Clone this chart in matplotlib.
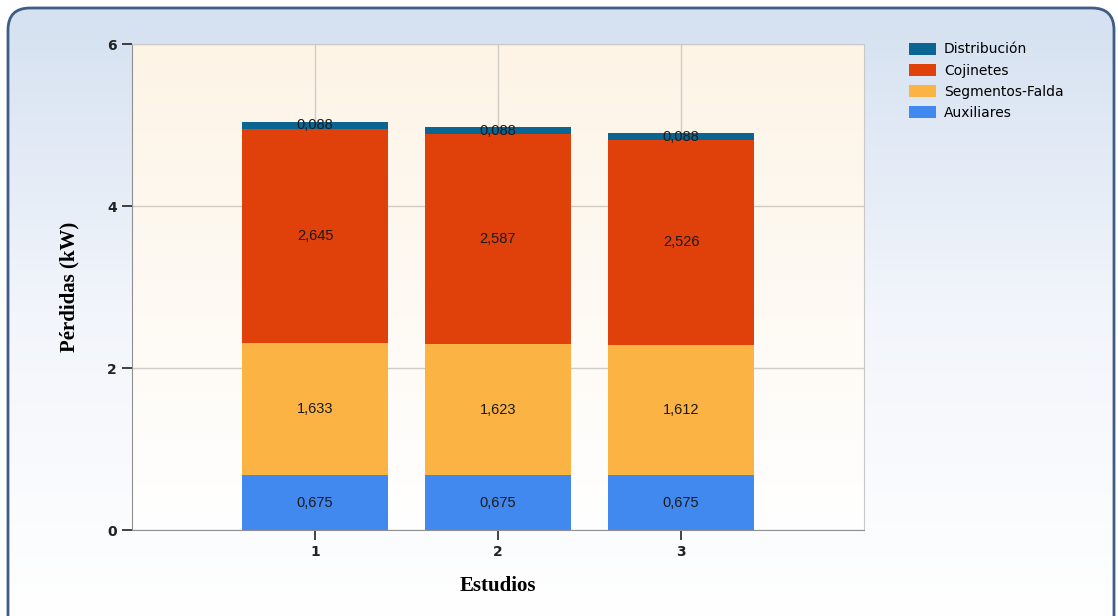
import matplotlib
matplotlib.use("Agg")
import matplotlib.pyplot as plt
import numpy as np
from matplotlib.patches import FancyBboxPatch
from matplotlib.colors import LinearSegmentedColormap

# data
estudios = [1, 2, 3]
tick_labels = ["1", "2", "3"]
auxiliares = [0.675, 0.675, 0.675]
segmentos = [1.633, 1.623, 1.612]
cojinetes = [2.645, 2.587, 2.526]
distribucion = [0.088, 0.088, 0.088]

series = [
    ("Auxiliares", auxiliares, "#4189EE"),
    ("Segmentos-Falda", segmentos, "#FBB443"),
    ("Cojinetes", cojinetes, "#E0410A"),
    ("Distribución", distribucion, "#0B6593"),
]

W, H = 1118, 616
fig = plt.figure(figsize=(W / 100, H / 100), dpi=100)
fig.patch.set_facecolor("white")

# rounded background panel with vertical gradient
bg = fig.add_axes([0, 0, 1, 1])
bg.set_xlim(0, W)
bg.set_ylim(0, H)
bg.axis("off")
cmap_bg = LinearSegmentedColormap.from_list("bg", ["#FFFFFF", "#F2F5FB", "#D5E1F1"])
grad = np.linspace(0, 1, 256).reshape(-1, 1)
im = bg.imshow(grad, extent=[8, 1114, 0, 608], origin="lower", cmap=cmap_bg, aspect="auto", zorder=0)
box = FancyBboxPatch((8, -40), 1106, 648, boxstyle="round,pad=0,rounding_size=22",
                     facecolor="none", edgecolor="#3E5C86", linewidth=2, zorder=1)
bg.add_patch(box)
im.set_clip_path(box)

# plot area
ax = fig.add_axes([132 / W, 1 - 530 / H, (864 - 132) / W, (530 - 44) / H])
ax.set_xlim(0, 4)
ax.set_ylim(0, 6)
cmap_pa = LinearSegmentedColormap.from_list("pa", ["#FFFFFF", "#FDF4E6"])
ax.imshow(grad, extent=[0, 4, 0, 6], origin="lower", cmap=cmap_pa, aspect="auto", zorder=0)

ax.set_xticks(estudios)
ax.set_xticklabels(tick_labels)
ax.set_yticks([0, 2, 4, 6])
ax.grid(True, color="#D0CCC4", linewidth=1, zorder=1)

bottom = np.zeros(len(estudios))
for name, vals, color in series:
    vals = np.array(vals)
    ax.bar(estudios, vals, width=0.8, bottom=bottom, color=color, label=name, zorder=2)
    for x, b, v in zip(estudios, bottom, vals):
        ax.text(x, b + v / 2, f"{v:.3f}".replace(".", ","), ha="center", va="center",
                fontsize=10.5, family="Liberation Sans", color="#1A1A1A", zorder=3)
    bottom += vals

for s in ["top", "right"]:
    ax.spines[s].set_color("#C8C8C8")
for s in ["left", "bottom"]:
    ax.spines[s].set_color("#909090")
ax.tick_params(axis="both", direction="out", length=7, width=1.2, color="#222222",
               labelsize=10, pad=4)
for lab in ax.get_xticklabels() + ax.get_yticklabels():
    lab.set_fontweight("bold")
    lab.set_color("#222222")

ax.set_xlabel("Estudios", family="Liberation Serif", fontweight="bold", fontsize=15, labelpad=12)
ax.set_ylabel("Pérdidas (kW)", family="Liberation Serif", fontweight="bold", fontsize=15, labelpad=20)

handles, labels = ax.get_legend_handles_labels()
leg = fig.legend(handles[::-1], labels[::-1], loc="upper left", bbox_to_anchor=(908 / W, 1 - 41 / H),
                 frameon=False, fontsize=10, handlelength=1.95, handleheight=0.95,
                 handletextpad=0.55, labelspacing=0.52, borderaxespad=0, borderpad=0.1)

fig.savefig("out.png", dpi=100)
